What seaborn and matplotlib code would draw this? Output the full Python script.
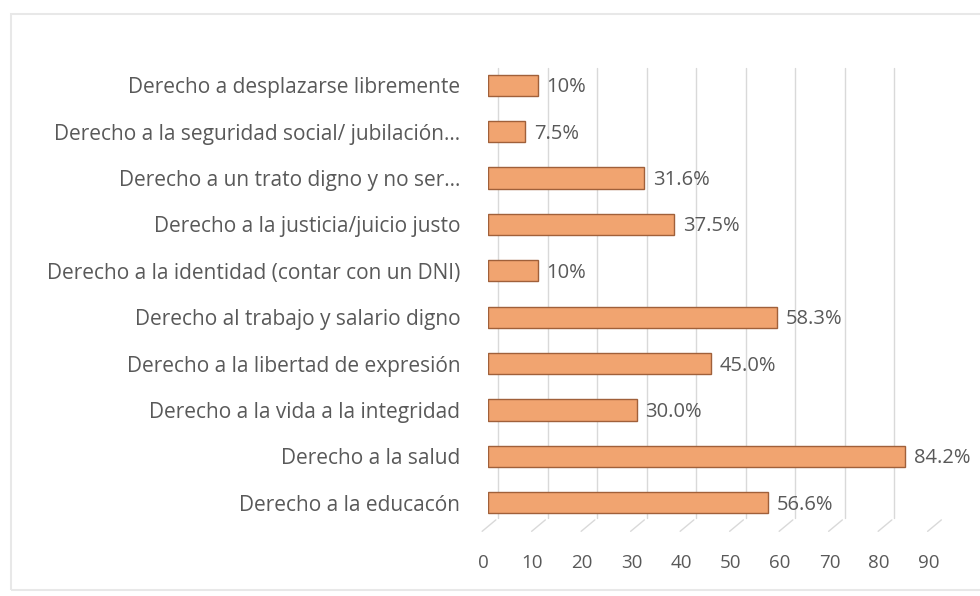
import numpy as np
import pandas as pd
import matplotlib
matplotlib.use("Agg")
import matplotlib.pyplot as plt
import matplotlib.transforms as mtransforms
from matplotlib.patches import Rectangle
import seaborn as sns

# data (top to bottom)
categories = [
    "Derecho a desplazarse libremente",
    "Derecho a la seguridad social/ jubilación...",
    "Derecho a un trato digno y no ser...",
    "Derecho a la justicia/juicio justo",
    "Derecho a la identidad (contar con un DNI)",
    "Derecho al trabajo y salario digno",
    "Derecho a la libertad de expresión",
    "Derecho a la vida a la integridad",
    "Derecho a la salud",
    "Derecho a la educacón",
]
values = [10, 7.5, 31.6, 37.5, 10, 58.3, 45.0, 30.0, 84.2, 56.6]
value_labels = ["10%", "7.5%", "31.6%", "37.5%", "10%", "58.3%", "45.0%", "30.0%", "84.2%", "56.6%"]
x_ticks = [0, 10, 20, 30, 40, 50, 60, 70, 80, 90]

df = pd.DataFrame({"derecho": categories, "valor": values})

sns.set_theme(style="white")
plt.rcParams["font.family"] = ["Open Sans", "DejaVu Sans"]

text_color = "#595959"
bar_color = "#F1A470"
edge_color = "#A0603A"
grid_color = "#D9D9D9"
fs = 15

fig = plt.figure(figsize=(9.8, 5.96), dpi=100)
ax = fig.add_axes([488 / 980, 70 / 596, 445.5 / 980, 464 / 596])

sns.barplot(data=df, x="valor", y="derecho", orient="h", color=bar_color,
            edgecolor=edge_color, linewidth=1.0, width=0.46, saturation=1, ax=ax)

ax.set_xlim(0, 90)
ax.set_ylim(9.5, -0.5)
ax.set_xlabel("")
ax.set_ylabel("")
for s in ax.spines.values():
    s.set_visible(False)

# gridlines, shifted a bit right to mimic the 3d depth, with a slanted foot
grid_trans = mtransforms.offset_copy(ax.get_xaxis_transform(), fig=fig, x=10, y=0, units="dots")
for t in x_ticks:
    ax.plot([t, t], [0.017, 0.987], transform=grid_trans, color=grid_color, lw=1.0, zorder=0)
    ax.annotate("", xy=(t, 0.017), xycoords=grid_trans, xytext=(-18, -15),
                textcoords="offset pixels",
                arrowprops=dict(arrowstyle="-", color=grid_color, lw=1.0))

ax.set_xticks(x_ticks)
ax.set_xticklabels([str(t) for t in x_ticks])
ax.tick_params(axis="x", length=0, pad=20, labelsize=fs - 1.5, labelcolor=text_color)
ax.tick_params(axis="y", length=0, pad=20, labelsize=fs, labelcolor=text_color)
shift = mtransforms.ScaledTranslation(-5 / 100, 0, fig.dpi_scale_trans)
for lab in ax.get_xticklabels():
    lab.set_transform(lab.get_transform() + shift)

# value labels
for i, (v, lab) in enumerate(zip(values, value_labels)):
    ax.annotate(lab, xy=(v, i), xytext=(9, -2), textcoords="offset pixels",
                ha="left", va="center", fontsize=fs - 0.5, color=text_color,
                annotation_clip=False)

# faint chart border
fig.patches.append(Rectangle((11 / 980, 6 / 596), 975 / 980, 576 / 596,
                             transform=fig.transFigure, fill=False,
                             edgecolor="#E8E8E8", lw=1.5))

fig.savefig("out.png", dpi=100)
plt.close(fig)
